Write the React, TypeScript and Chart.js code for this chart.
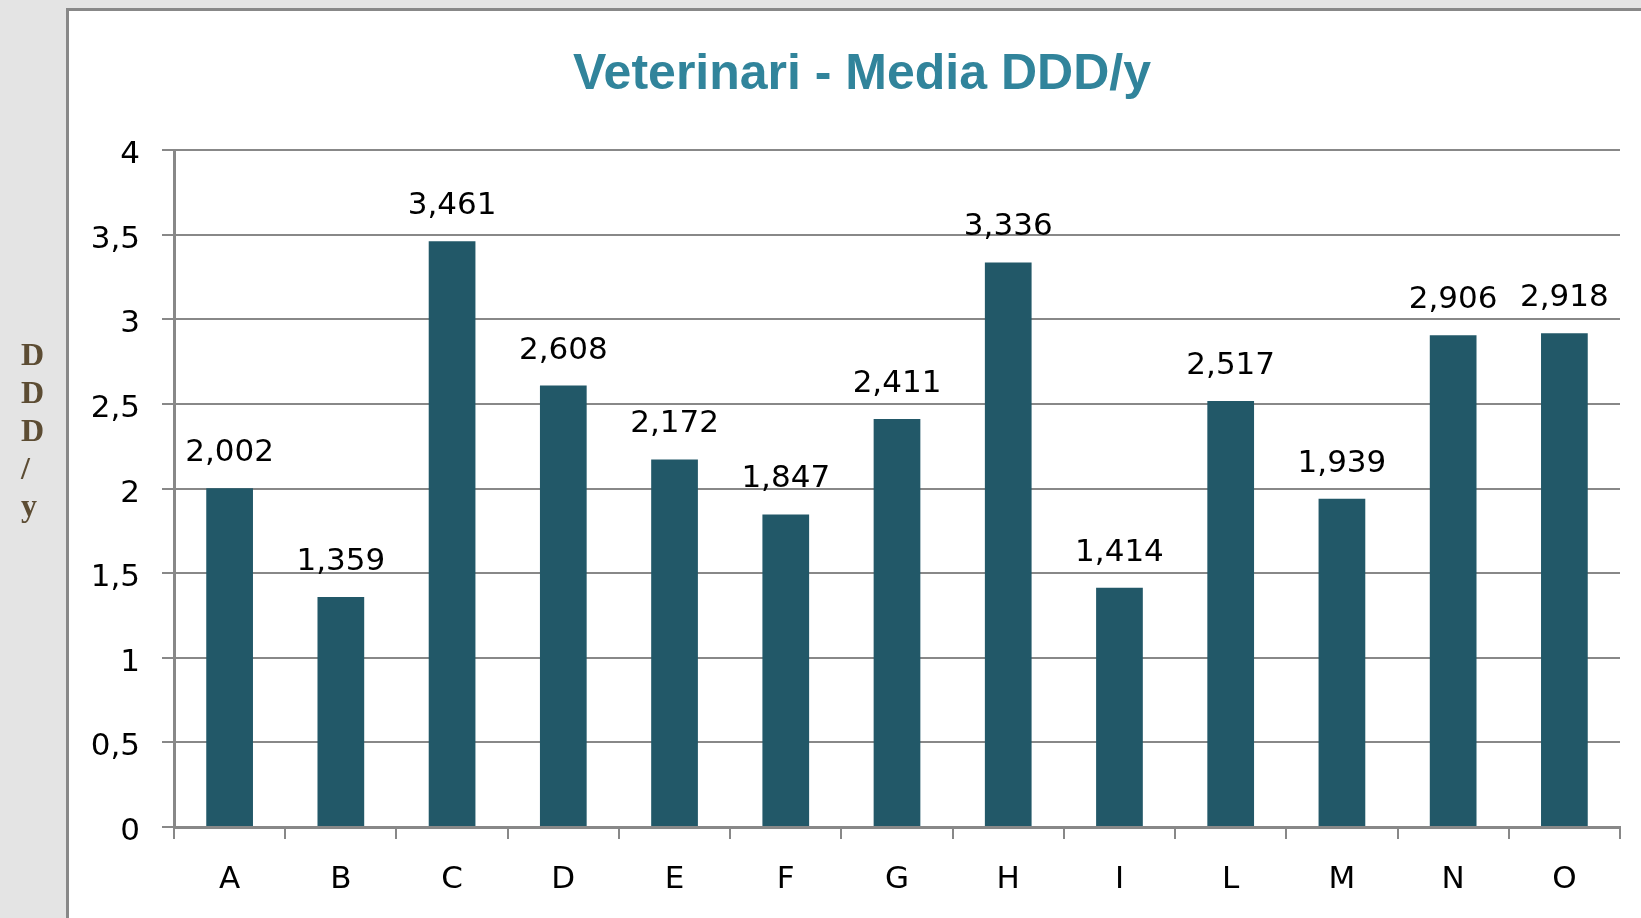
import React, { useEffect, useRef } from "react";
import { Chart, registerables } from "chart.js";

Chart.register(...registerables);

const categories = ["A", "B", "C", "D", "E", "F", "G", "H", "I", "L", "M", "N", "O"];
const values = [2.002, 1.359, 3.461, 2.608, 2.172, 1.847, 2.411, 3.336, 1.414, 2.517, 1.939, 2.906, 2.918];
const valueLabels = ["2,002", "1,359", "3,461", "2,608", "2,172", "1,847", "2,411", "3,336", "1,414", "2,517", "1,939", "2,906", "2,918"];
const titleText = "Veterinari - Media DDD/y";
const sideLabel = ["D", "D", "D", "/", "y"];

const W = 1641;
const H = 918;

const framePlugin = {
  id: "framePlugin",
  beforeDraw(chart: any) {
    const ctx = chart.ctx;
    ctx.save();
    ctx.fillStyle = "#e4e4e4";
    ctx.fillRect(0, 0, W, H);
    ctx.fillStyle = "#ffffff";
    ctx.fillRect(67, 9, W - 67, H - 9);
    ctx.fillStyle = "#888888";
    ctx.fillRect(66, 8, 3, H - 8);
    ctx.fillRect(66, 8, W - 66, 3);
    // title
    ctx.fillStyle = "#31849b";
    ctx.font = "bold 50px 'Liberation Sans', Arial, sans-serif";
    ctx.textAlign = "center";
    ctx.textBaseline = "alphabetic";
    ctx.fillText(titleText, 862, 89);
    // vertical side label
    ctx.fillStyle = "#5c4c33";
    ctx.font = "bold 32px 'Liberation Serif', 'Times New Roman', serif";
    ctx.textAlign = "left";
    const baselines = [365, 403, 441, 479, 516];
    sideLabel.forEach((s, i) => {
      ctx.fillText(s, 21, baselines[i]);
    });
    ctx.restore();
  },
};

const valueLabelPlugin = {
  id: "valueLabelPlugin",
  afterDatasetsDraw(chart: any) {
    const ctx = chart.ctx;
    const meta = chart.getDatasetMeta(0);
    ctx.save();
    ctx.fillStyle = "#000000";
    ctx.font = "31px 'DejaVu Sans', sans-serif";
    ctx.textAlign = "center";
    ctx.textBaseline = "alphabetic";
    meta.data.forEach((bar: any, i: number) => {
      ctx.fillText(valueLabels[i], bar.x, bar.y - 27);
    });
    ctx.restore();
  },
};

export default function App() {
  const ref = useRef<HTMLCanvasElement | null>(null);
  useEffect(() => {
    if (!ref.current) return;
    const chart = new Chart(ref.current, {
      type: "bar",
      data: {
        labels: categories,
        datasets: [
          {
            data: values,
            backgroundColor: "#225868",
            borderWidth: 0,
            categoryPercentage: 1,
            barPercentage: 0.42,
          },
        ],
      },
      options: {
        animation: false,
        responsive: false,
        devicePixelRatio: 1,
        layout: { padding: { top: 150, right: 21, bottom: 0, left: 0 } },
        plugins: {
          legend: { display: false },
          title: { display: false },
          tooltip: { enabled: false },
        },
        scales: {
          x: {
            afterFit: (s: any) => {
              s.height = 91;
            },
            grid: {
              display: true,
              drawOnChartArea: false,
              drawTicks: true,
              tickLength: 12,
              color: "#888888",
              lineWidth: 2,
              offset: true,
            },
            border: { display: true, color: "#888888", width: 3 },
            ticks: {
              color: "#000000",
              font: { family: "'DejaVu Sans', sans-serif", size: 31 },
              padding: 22,
              maxRotation: 0,
            },
          },
          y: {
            min: 0,
            max: 4,
            afterFit: (s: any) => {
              s.width = 174;
            },
            grid: {
              color: "#888888",
              lineWidth: 2,
              tickLength: 12,
              drawTicks: true,
            },
            border: { display: true, color: "#888888", width: 3 },
            ticks: {
              stepSize: 0.5,
              color: "#000000",
              padding: 22,
              labelOffset: 5,
              font: { family: "'DejaVu Sans', sans-serif", size: 31 },
              callback: (v: any) => String(v).replace(".", ","),
            },
          },
        },
      },
      plugins: [framePlugin, valueLabelPlugin],
    });
    return () => chart.destroy();
  }, []);
  return (
    <div style={{ position: "fixed", left: 0, top: 0, width: W, height: H }}>
      <canvas ref={ref} width={W} height={H} style={{ width: W, height: H, display: "block" }} />
    </div>
  );
}
